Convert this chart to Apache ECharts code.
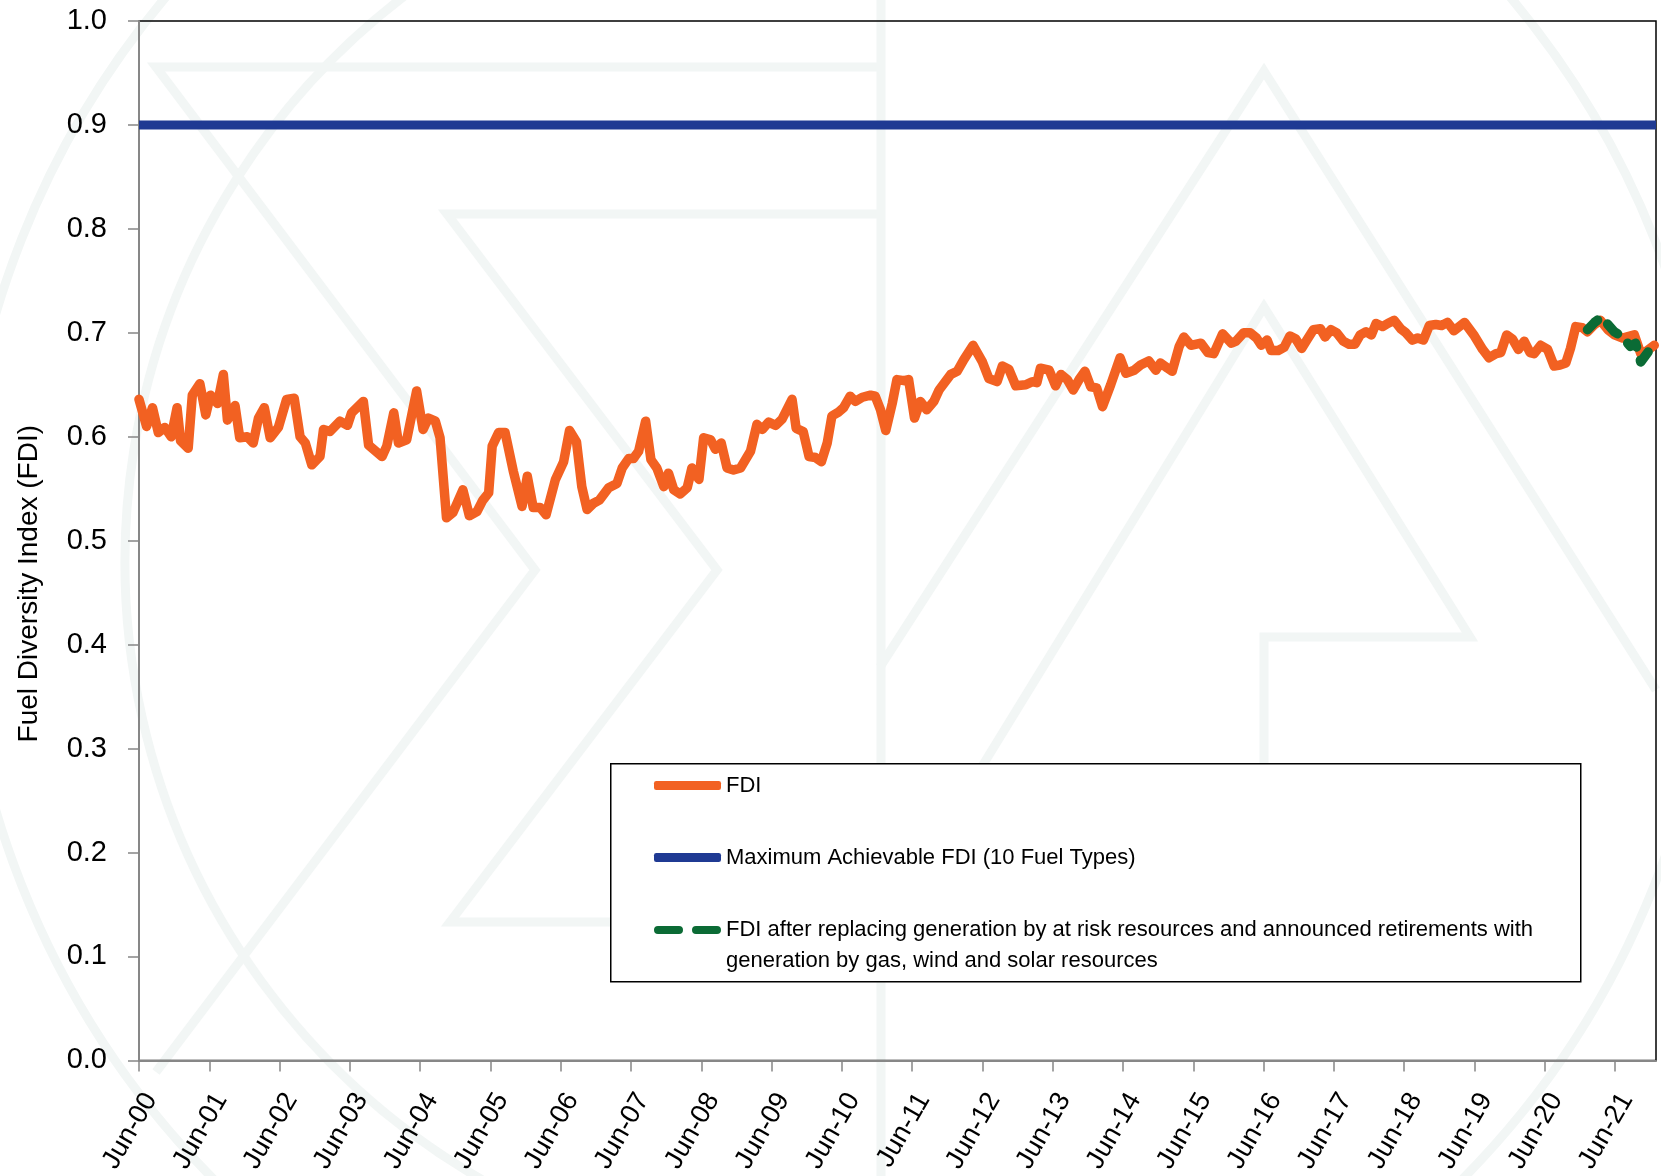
<!DOCTYPE html>
<html><head><meta charset="utf-8">
<script src="https://cdn.jsdelivr.net/npm/echarts@6/dist/echarts.min.js"></script>
<style>html,body{margin:0;padding:0;background:#fff}#c{width:1661px;height:1176px}</style>
</head><body><div id="c"></div>
<script>
// Tick labels on the month axis (month 0 = Jun-2000, one tick every 12 months)
const tickLabels = ['Jun-00','Jun-01','Jun-02','Jun-03','Jun-04','Jun-05','Jun-06','Jun-07','Jun-08','Jun-09','Jun-10',
  'Jun-11','Jun-12','Jun-13','Jun-14','Jun-15','Jun-16','Jun-17','Jun-18','Jun-19','Jun-20','Jun-21'];
const xMaxMonth = 259;

// FDI series: months since Jun-2000, values
const fdiMonths = [0,1.3,2.3,3.3,4.4,5.5,6.5,7.1,8.4,9.1,10.4,11.4,12.2,13.4,14.4,15.1,16.4,17.2,18.5,19.5,20.4,21.4,22.4,23.8,
  25.2,26.5,27.5,28.4,29.5,30.9,31.5,32.6,34.3,35.6,36.3,38.3,39.2,41.5,42.3,43.5,44.3,45.7,47.4,48.5,49.4,50.6,51.4,52.5,53.6,
  55.3,56.4,57.7,58.7,59.7,60.3,61.4,62.5,63.9,65.4,66.3,67.3,68.5,69.5,71.1,72.5,73.5,74.7,75.6,76.5,77.6,78.6,80.2,81.6,82.5,
  83.6,84.4,85.3,86.5,87.4,88.4,89.6,90.4,91.3,92.4,93.6,94.4,95.6,96.4,97.6,98.4,99.4,100.4,101.5,102.7,104.4,105.5,106.4,107.5,
  108.7,109.8,111.5,112.2,113.4,114.4,115.5,116.5,117.5,118.3,119.5,120.3,121.4,122.3,123.5,124.9,125.7,126.6,127.5,128.6,129.4,
  130.6,131.4,132.4,133.4,134.5,135.7,136.6,138.6,139.7,140.8,142.4,144,145.1,146.5,147.4,148.5,149.7,151.4,152.5,153.3,153.9,
  155.4,156.5,157.4,158.5,159.5,160.5,161.5,162.5,163.5,164.5,165.9,167.5,168.5,169.9,171,172.4,173.6,174.4,175.6,176.4,177.6,
  178.4,179.6,181.3,182.5,183.5,185,186.5,187.3,188.6,189.7,190.8,191.6,192.6,193.3,194.5,195.5,196.5,197.5,198.5,199.5,200.5,
  201.7,202.5,203.5,204.5,205.6,206.6,207.6,208.5,209.5,210.4,211.2,212.3,213.2,214.3,215.4,216.3,217.4,218.3,219.3,220.3,221.4,
  222.4,223.4,224.5,226.3,228,229.4,230.5,231.7,232.5,233.5,234.5,235.5,236.5,237.5,238.2,239.3,240.5,241.6,242.6,243.6,244.4,
  245.3,246.4,247.3,248.5,249.5,250.8,251.9,253.3,255.3,256.4,257.3,258.7];
const fdiValues = [0.636,0.610,0.628,0.604,0.609,0.600,0.628,0.596,0.589,0.640,0.651,0.621,0.640,0.632,0.660,0.616,0.630,0.599,0.600,0.594,0.618,0.628,0.599,0.609,
  0.636,0.637,0.600,0.594,0.573,0.581,0.607,0.605,0.615,0.611,0.623,0.634,0.592,0.581,0.591,0.623,0.594,0.597,0.644,0.607,0.618,0.615,0.599,0.522,0.527,
  0.549,0.524,0.528,0.539,0.546,0.591,0.604,0.604,0.567,0.533,0.562,0.532,0.532,0.525,0.559,0.576,0.606,0.595,0.552,0.530,0.536,0.539,0.551,0.555,0.570,
  0.579,0.579,0.586,0.615,0.578,0.570,0.552,0.565,0.549,0.545,0.551,0.570,0.559,0.599,0.597,0.588,0.594,0.570,0.568,0.570,0.586,0.612,0.607,0.614,
  0.611,0.617,0.636,0.608,0.605,0.581,0.580,0.576,0.594,0.620,0.624,0.628,0.639,0.634,0.638,0.640,0.639,0.626,0.606,0.632,0.655,
  0.654,0.655,0.618,0.634,0.626,0.634,0.645,0.660,0.663,0.674,0.688,0.672,0.656,0.653,0.668,0.665,0.649,0.650,0.653,0.652,0.666,
  0.664,0.649,0.660,0.655,0.645,0.655,0.663,0.648,0.647,0.629,0.650,0.676,0.661,0.664,0.669,0.673,0.664,0.671,0.666,0.663,0.687,
  0.696,0.688,0.690,0.681,0.680,0.699,0.690,0.692,0.700,0.700,0.695,0.688,0.693,0.683,0.683,0.686,0.697,0.694,0.685,0.694,0.703,
  0.704,0.696,0.703,0.700,0.692,0.689,0.689,0.698,0.701,0.698,0.709,0.706,0.709,0.712,0.704,0.700,0.693,0.695,0.693,0.707,0.708,
  0.707,0.710,0.702,0.710,0.697,0.684,0.676,0.680,0.681,0.698,0.694,0.684,0.692,0.681,0.680,0.688,0.684,0.668,0.669,0.671,0.685,
  0.706,0.705,0.701,0.708,0.712,0.703,0.698,0.695,0.698,0.680,0.682,0.688];

// Scenario series (dashed green)
const scenarioMonths = [247.3,248.5,249.7,251.9,253.3,254.6,255.5,256.4,258.1,259];
const scenarioValues = [0.703,0.710,0.715,0.701,0.696,0.687,0.690,0.672,0.685,0.689];

// Maximum achievable FDI (flat line)
const maxFdiMonths = [0, 259];
const maxFdiValues = [0.9, 0.9];

const nameFDI = 'FDI';
const nameMax = 'Maximum Achievable FDI (10 Fuel Types)';
const nameScen = 'FDI after replacing generation by at risk resources and announced retirements with generation by gas, wind and solar resources';

const zip = (xs, ys) => xs.map((x, i) => [x, ys[i]]);
const FONT = "'Liberation Sans', Arial, sans-serif";
const ORANGE = '#F26122', BLUE = '#1F3A93', GREEN = '#0B6B35', AXIS = '#878787', WM = '#f2f6f5';

// faint background watermark (decoration only)
const wmLine = pts => ({type: 'polyline', z: -10, silent: true, shape: {points: pts},
  style: {stroke: WM, lineWidth: 9, fill: null, lineJoin: 'miter'}});
const watermark = [
  {type: 'circle', z: -10, silent: true, shape: {cx: 838, cy: 562, r: 878}, style: {stroke: WM, lineWidth: 9, fill: null}},
  {type: 'arc', z: -10, silent: true, shape: {cx: 838, cy: 562, r: 713, startAngle: Math.PI * 0.55, endAngle: Math.PI * 1.31},
    style: {stroke: WM, lineWidth: 9, fill: null}},
  wmLine([[881, 67], [156, 67], [535, 570], [156, 1072]]),
  wmLine([[881, 214], [447, 214], [717, 570], [450, 922], [881, 922]]),
  wmLine([[881, 0], [881, 1176]]),
  wmLine([[880, 667], [1264, 71], [1656, 690]]),
  wmLine([[900, 900], [1264, 307], [1470, 637], [1264, 637], [1264, 770]])
];

const chart = echarts.init(document.getElementById('c'), null, {renderer: 'canvas'});
const legendBase = {
  orient: 'vertical', left: 654, itemWidth: 67, itemHeight: 9, padding: 0,
  textStyle: {fontFamily: FONT, fontSize: 22, color: '#000', lineHeight: 31},
  itemStyle: {borderWidth: 0}, selectedMode: false
};
chart.setOption({
  animation: false,
  backgroundColor: '#fff',
  textStyle: {fontFamily: FONT},
  grid: {left: 139, top: 21, right: 5, bottom: 115, show: true, borderColor: '#000', borderWidth: 1.5, backgroundColor: 'transparent'},
  xAxis: {
    type: 'value', min: 0, max: xMaxMonth,
    axisLine: {lineStyle: {color: AXIS, width: 2}},
    axisTick: {show: true, length: 11, lineStyle: {color: AXIS, width: 1.5},
      customValues: tickLabels.map((_, i) => i * 12)},
    axisLabel: {rotate: 60, fontSize: 27, color: '#000', margin: 28, verticalAlign: 'top', fontFamily: FONT,
      customValues: tickLabels.map((_, i) => i * 12),
      formatter: v => tickLabels[Math.round(v / 12)] || ''},
    splitLine: {show: false}
  },
  yAxis: {
    type: 'value', min: 0, max: 1, interval: 0.1,
    name: 'Fuel Diversity Index (FDI)', nameLocation: 'middle', nameRotate: 90, nameGap: 96,
    nameTextStyle: {fontSize: 28, color: '#000', fontFamily: FONT, padding: [0, 86, 0, 0]},
    axisLine: {show: true, lineStyle: {color: AXIS, width: 2}},
    axisTick: {show: true, length: 11, lineStyle: {color: AXIS, width: 1.5}},
    axisLabel: {fontSize: 29, color: '#000', margin: 32, fontFamily: FONT, formatter: v => v.toFixed(1)},
    splitLine: {show: false}
  },
  legend: [
    Object.assign({}, legendBase, {top: 770, data: [{name: nameFDI, icon: 'roundRect'}]}),
    Object.assign({}, legendBase, {top: 842, data: [{name: nameMax, icon: 'roundRect'}]}),
    Object.assign({}, legendBase, {top: 883.5, itemHeight: 8,
      data: [{name: nameScen,
        icon: 'path://M4,0H25A4,4 0 0 1 25,8H4A4,4 0 0 1 4,0ZM42,0H63A4,4 0 0 1 63,8H42A4,4 0 0 1 42,0Z'}],
      formatter: n => '\n' + n.replace(' with generation', ' with\ngeneration')})
  ],
  graphic: watermark.concat([{
    type: 'rect', left: 610, top: 763, z: -1, silent: true,
    shape: {width: 970, height: 218},
    style: {fill: '#fff', stroke: '#000', lineWidth: 1.5}
  }]),
  series: [
    {name: nameMax, type: 'line', data: zip(maxFdiMonths, maxFdiValues), showSymbol: false, symbol: 'none',
      lineStyle: {color: BLUE, width: 9}, itemStyle: {color: BLUE}, z: 2},
    {name: nameFDI, type: 'line', data: zip(fdiMonths, fdiValues), showSymbol: false, symbol: 'none',
      lineStyle: {color: ORANGE, width: 9.5, cap: 'round', join: 'round'}, itemStyle: {color: ORANGE}, z: 3},
    {name: nameScen, type: 'line', data: zip(scenarioMonths, scenarioValues), showSymbol: false, symbol: 'none',
      lineStyle: {color: GREEN, width: 9.5, type: [14, 14], cap: 'round', join: 'round'}, itemStyle: {color: GREEN}, z: 4}
  ]
});
</script>
</body></html>
